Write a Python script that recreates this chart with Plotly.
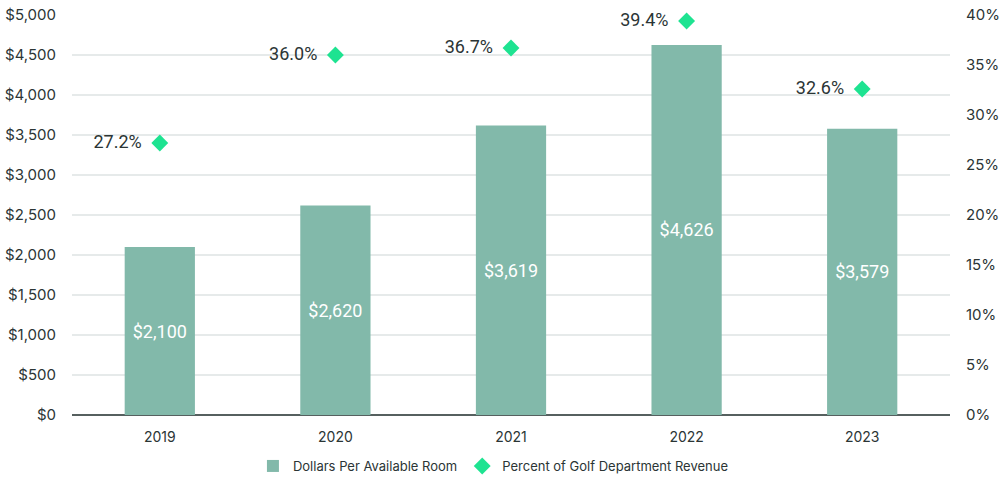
import plotly.graph_objects as go

years = ["2019", "2020", "2021", "2022", "2023"]
dollars = [2100, 2620, 3619, 4626, 3579]
percent = [0.272, 0.360, 0.367, 0.394, 0.326]

bar_color = "#82b9aa"
diamond_color = "#1ee391"
text_color = "#2b3535"
cond_font = "Roboto, DejaVu Sans, sans-serif"

fig = go.Figure()
fig.add_trace(go.Bar(
    x=years, y=dollars, name="Dollars Per Available Room",
    marker=dict(color=bar_color, line=dict(width=0)),
    text=[f"${v:,}" for v in dollars], textposition="inside",
    insidetextanchor="middle",
    textfont=dict(family=cond_font, size=18, color="white"),
    yaxis="y", cliponaxis=False,
))
fig.add_trace(go.Scatter(
    x=years, y=percent, name="Percent of Golf Department Revenue",
    mode="markers+text",
    marker=dict(symbol="diamond", size=13, color=diamond_color),
    text=[f"{v*100:.1f}%  " for v in percent], textposition="middle left",
    textfont=dict(family=cond_font, size=18, color=text_color),
    yaxis="y2", cliponaxis=False,
))

fig.update_layout(
    width=1000, height=479,
    margin=dict(l=72, r=50, t=15, b=64),
    plot_bgcolor="white", paper_bgcolor="white",
    font=dict(family="Inter, sans-serif", size=14, color=text_color),
    bargap=0.6,
    showlegend=True,
    legend=dict(orientation="h", x=0.48, xanchor="center",
                yref="container", y=1 - 466 / 479, yanchor="middle",
                font=dict(family="Inter, sans-serif", size=13, color=text_color),
                itemwidth=30),
    xaxis=dict(showgrid=False, ticks="", tickfont=dict(size=14), automargin=False,
               ticklabelstandoff=12),
    yaxis=dict(range=[0, 5000], dtick=500, tickprefix="$", tickformat=",",
               gridcolor="#e6eaea", gridwidth=1.5, zeroline=True, zerolinecolor="#56605f",
               zerolinewidth=1.5, ticks="", ticklabelstandoff=15, tickfont=dict(size=15),
               automargin=False),
    yaxis2=dict(range=[0, 0.4], dtick=0.05, tickformat=".0%", overlaying="y", side="right",
                showgrid=False, zeroline=False, ticks="", ticklabelstandoff=15,
                tickfont=dict(size=15), automargin=False),
)

post = """
document.body.style.margin='0px';
document.body.style.overflow='hidden';
"""

fig.write_html("out.html", post_script=post,
               config={"responsive": False, "displayModeBar": False})
